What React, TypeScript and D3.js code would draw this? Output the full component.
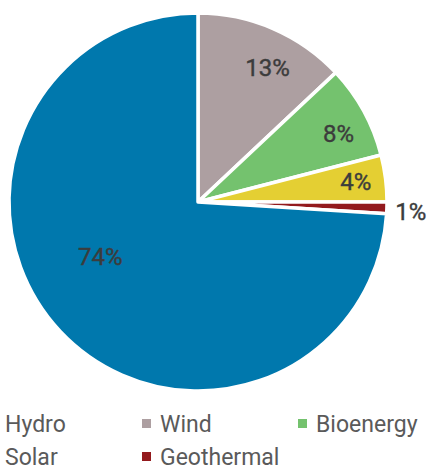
import React from 'react';
import * as d3 from 'd3';

const categories = ['Hydro', 'Wind', 'Bioenergy', 'Solar', 'Geothermal'];
const shares = [74, 13, 8, 4, 1];
const labels = ['74%', '13%', '8%', '4%', '1%'];
const colors = ['#0078ad', '#ad9fa1', '#74c26e', '#e4cf33', '#931a1d'];

// order slices clockwise from 12 o'clock: Wind, Bioenergy, Solar, Geothermal, Hydro
const sliceOrder = [1, 2, 3, 4, 0];

// label placement: radius and angle nudge (degrees) per category
const labelRadius = [112, 151, 156, 159, 213];
const labelNudge = [14, 4, 3, 0, 1];

function App() {
  const width = 429;
  const height = 465;
  const cx = 198;
  const cy = 202;
  const radius = 189;

  const pie = d3
    .pie<number>()
    .sort(null)
    .value((i) => shares[i]);
  const arcs = pie(sliceOrder);

  const arc = d3.arc<d3.PieArcDatum<number>>().innerRadius(0).outerRadius(radius);

  const legendCols = [-13, 142, 298];
  const legendRows = [432, 465];

  return (
    <svg
      width={width}
      height={height}
      style={{ position: 'absolute', left: 0, top: 0 }}
      fontFamily="Roboto, sans-serif"
    >
      <g transform={`translate(${cx},${cy})`}>
        {arcs.map((a) => (
          <path
            key={categories[a.data]}
            d={arc(a) ?? ''}
            fill={colors[a.data]}
            stroke="#fff"
            strokeWidth={3.5}
            strokeLinejoin="round"
          />
        ))}
        {arcs.map((a) => {
          const r = labelRadius[a.data];
          const mid = (a.startAngle + a.endAngle) / 2 + (labelNudge[a.data] * Math.PI) / 180;
          const x = Math.sin(mid) * r;
          const y = -Math.cos(mid) * r;
          return (
            <text
              key={`l-${categories[a.data]}`}
              x={x}
              y={y}
              textAnchor="middle"
              dominantBaseline="central"
              fontSize={24}
              fill="#3c3c3c"
              stroke="#3c3c3c"
              strokeWidth={0.4}
            >
              {labels[a.data]}
            </text>
          );
        })}
      </g>
      {categories.map((c, i) => {
        const col = legendCols[i % 3];
        const row = legendRows[Math.floor(i / 3)];
        return (
          <g key={`lg-${c}`} transform={`translate(${col},${row})`}>
            <rect x={0} y={-13} width={9} height={9} fill={colors[i]} />
            <text x={18} y={0} fontSize={23} fill="#5a5a5a">
              {c}
            </text>
          </g>
        );
      })}
    </svg>
  );
}

export default App;
